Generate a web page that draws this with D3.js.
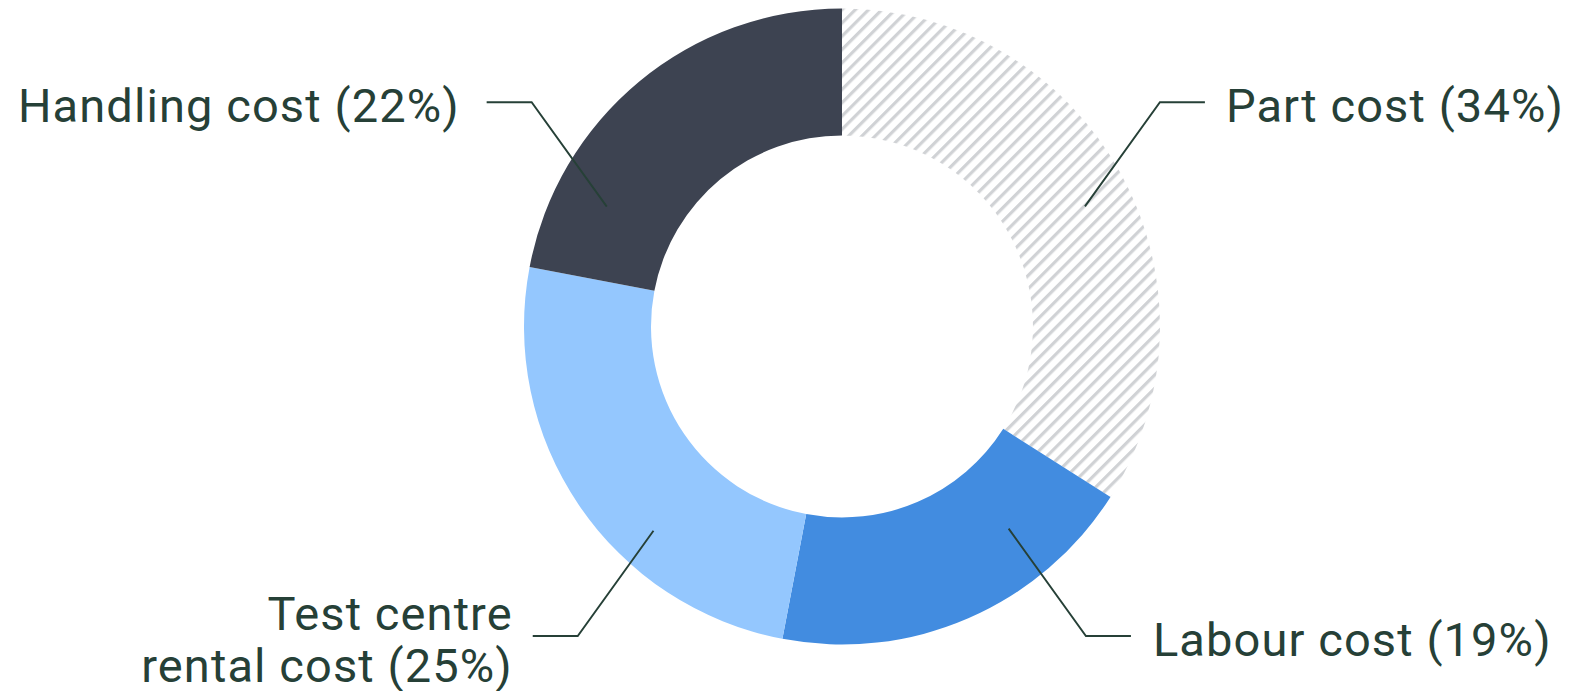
<!DOCTYPE html>
<html>
<head>
<meta charset="utf-8">
<script src="https://cdn.jsdelivr.net/npm/d3@7/dist/d3.min.js"></script>
<style>
  html, body { margin: 0; padding: 0; background: #fff; }
  svg { display: block; }
  .label { font-family: Roboto, "Noto Sans", sans-serif; font-size: 47px; letter-spacing: 1.1px; fill: #264037; }
</style>
</head>
<body>
<div id="donut"></div>
<script>
// data
var categories = ["Part cost", "Labour cost", "Test centre rental cost", "Handling cost"],
    shares = [34, 19, 25, 22],
    labelLines = [["Part cost (34%)"], ["Labour cost (19%)"], ["Test centre", "rental cost (25%)"], ["Handling cost (22%)"]];

// styling / layout (kept apart from the data)
var w = 1588, h = 691,
    cx = 842, cy = 326.5,
    outerR = 318, innerR = 191,
    sliceFill = ["url(#hatch)", "#428ce0", "#94c7fe", "#3d4351"],
    // leader anchor: angle (deg, clockwise from top), radius, y of the horizontal tick, side, text gap
    leaderLayout = [
      {angle: 63.7, r: 271, y: 102.3, side: 1, gap: 21},
      {angle: 140.5, r: 262, y: 636, side: 1, gap: 22},
      {angle: 222.7, r: 278, y: 636, side: -1, gap: 20},
      {angle: 297, r: 264, y: 102.3, side: -1, gap: 27}
    ],
    lineColor = "#264037",
    lineHeight = 52;

var svg = d3.select("#donut")
    .append("svg")
    .attr("width", w)
    .attr("height", h);

// hatch pattern for the part cost slice
var pattern = svg.append("defs").append("pattern")
    .attr("id", "hatch")
    .attr("patternUnits", "userSpaceOnUse")
    .attr("width", 9.4)
    .attr("height", 9.4)
    .attr("patternTransform", "rotate(45)");
pattern.append("line")
    .attr("x1", 1.6).attr("y1", 0)
    .attr("x2", 1.6).attr("y2", 9.4)
    .attr("stroke", "#d0d2d5")
    .attr("stroke-width", 3.2);

var g = svg.append("g")
    .attr("transform", "translate(" + cx + "," + cy + ")");

var pie = d3.pie().sort(null).value(function(d) { return d; });
var arc = d3.arc().innerRadius(innerR).outerRadius(outerR);

g.selectAll(".slice")
  .data(pie(shares))
  .enter().append("path")
    .attr("class", "slice")
    .attr("fill", function(d, i) { return sliceFill[i]; })
    .attr("d", arc);

// leader lines + labels
categories.forEach(function(c, i) {
  var L = leaderLayout[i],
      a = L.angle * Math.PI / 180,
      x0 = L.r * Math.sin(a),
      y0 = -L.r * Math.cos(a),
      ly = L.y - cy,
      x1 = x0 + L.side * Math.abs(ly - y0) * 0.72,
      x2 = x1 + L.side * 45;

  g.append("polyline")
      .attr("points", [[x0, y0], [x1, ly], [x2, ly]].map(function(p) { return p.join(","); }).join(" "))
      .attr("fill", "none")
      .attr("stroke", lineColor)
      .attr("stroke-width", 1.9);

  var lines = labelLines[i],
      base = ly + 19.5 - (lines.length - 1) * 26;
  var txt = g.append("text")
      .attr("class", "label")
      .attr("text-anchor", L.side > 0 ? "start" : "end");
  lines.forEach(function(s, k) {
    txt.append("tspan")
        .attr("x", x2 + L.side * L.gap)
        .attr("y", base + k * lineHeight)
        .text(s);
  });
});
</script>
</body>
</html>
